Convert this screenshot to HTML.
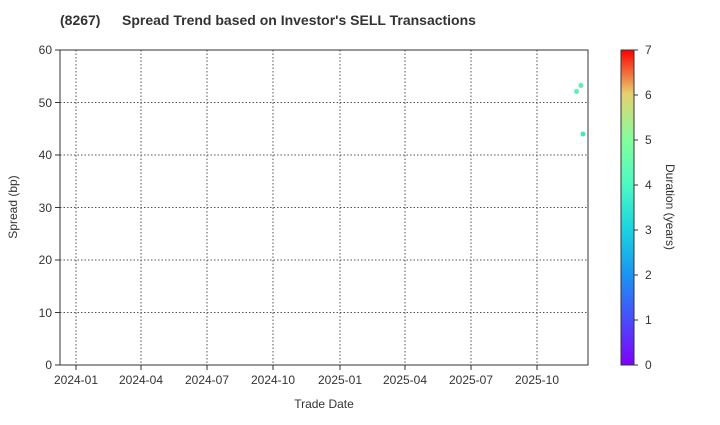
<!DOCTYPE html>
<html><head><style>body{margin:0;background:#fff}svg text{font-family:"Liberation Sans",Arial,sans-serif;fill:#333}</style></head><body>
<svg width="720" height="420" xmlns="http://www.w3.org/2000/svg">
<defs><linearGradient id="g" x1="0" y1="1" x2="0" y2="0">
<stop offset="0" stop-color="#8000ff"/><stop offset="0.14" stop-color="#4a4afb"/><stop offset="0.29" stop-color="#1996f3"/><stop offset="0.43" stop-color="#1ad4e0"/><stop offset="0.57" stop-color="#4cf9c4"/><stop offset="0.71" stop-color="#80ff9e"/><stop offset="0.86" stop-color="#e6d170"/><stop offset="1" stop-color="#ff0000"/></linearGradient></defs>
<text x="60" y="25" font-size="14" font-weight="bold" fill="#222">(8267)</text>
<text x="122" y="25" font-size="14" font-weight="bold" fill="#222">Spread Trend based on Investor's SELL Transactions</text>
<g stroke="#555" stroke-dasharray="1.5,2" stroke-width="1">
<line x1="60" x2="588" y1="312.5" y2="312.5"/><line x1="60" x2="588" y1="260" y2="260"/><line x1="60" x2="588" y1="207.5" y2="207.5"/><line x1="60" x2="588" y1="155" y2="155"/><line x1="60" x2="588" y1="102.5" y2="102.5"/>
<line x1="76" x2="76" y1="50" y2="365"/><line x1="141" x2="141" y1="50" y2="365"/><line x1="207" x2="207" y1="50" y2="365"/><line x1="273" x2="273" y1="50" y2="365"/><line x1="340" x2="340" y1="50" y2="365"/><line x1="405" x2="405" y1="50" y2="365"/><line x1="471" x2="471" y1="50" y2="365"/><line x1="537" x2="537" y1="50" y2="365"/>
</g>
<rect x="60" y="50" width="528" height="315" fill="none" stroke="#333"/>
<g stroke="#333"><line x1="55" x2="60" y1="365" y2="365"/><line x1="55" x2="60" y1="312.5" y2="312.5"/><line x1="55" x2="60" y1="260" y2="260"/><line x1="55" x2="60" y1="207.5" y2="207.5"/><line x1="55" x2="60" y1="155" y2="155"/><line x1="55" x2="60" y1="102.5" y2="102.5"/><line x1="55" x2="60" y1="50" y2="50"/>
<line x1="76" x2="76" y1="365" y2="370"/><line x1="141" x2="141" y1="365" y2="370"/><line x1="207" x2="207" y1="365" y2="370"/><line x1="273" x2="273" y1="365" y2="370"/><line x1="340" x2="340" y1="365" y2="370"/><line x1="405" x2="405" y1="365" y2="370"/><line x1="471" x2="471" y1="365" y2="370"/><line x1="537" x2="537" y1="365" y2="370"/></g>
<g font-size="12" text-anchor="end"><text x="52" y="369">0</text><text x="52" y="317">10</text><text x="52" y="264">20</text><text x="52" y="212">30</text><text x="52" y="159">40</text><text x="52" y="107">50</text><text x="52" y="54">60</text></g>
<g font-size="12" text-anchor="middle"><text x="76" y="384">2024-01</text><text x="141" y="384">2024-04</text><text x="207" y="384">2024-07</text><text x="273" y="384">2024-10</text><text x="340" y="384">2025-01</text><text x="405" y="384">2025-04</text><text x="471" y="384">2025-07</text><text x="537" y="384">2025-10</text></g>
<text x="324" y="408" font-size="12" text-anchor="middle">Trade Date</text>
<text transform="translate(17,207) rotate(-90)" font-size="12" text-anchor="middle">Spread (bp)</text>
<circle cx="576.5" cy="91.5" r="2.5" fill="#5ef0b0"/><circle cx="581" cy="85.5" r="2.5" fill="#5ef0b0"/><circle cx="583" cy="134" r="2.5" fill="#40e8c0"/>
<rect x="621" y="50" width="13" height="315" fill="url(#g)" stroke="#333"/>
<g stroke="#333"><line x1="634" x2="638" y1="365" y2="365"/><line x1="634" x2="638" y1="320" y2="320"/><line x1="634" x2="638" y1="275" y2="275"/><line x1="634" x2="638" y1="230" y2="230"/><line x1="634" x2="638" y1="185" y2="185"/><line x1="634" x2="638" y1="140" y2="140"/><line x1="634" x2="638" y1="95" y2="95"/><line x1="634" x2="638" y1="50" y2="50"/></g>
<g font-size="12"><text x="645" y="369">0</text><text x="645" y="324">1</text><text x="645" y="279">2</text><text x="645" y="234">3</text><text x="645" y="189">4</text><text x="645" y="144">5</text><text x="645" y="99">6</text><text x="645" y="54">7</text></g>
<text transform="translate(666,207) rotate(90)" font-size="12" text-anchor="middle">Duration (years)</text>
</svg></body></html>
